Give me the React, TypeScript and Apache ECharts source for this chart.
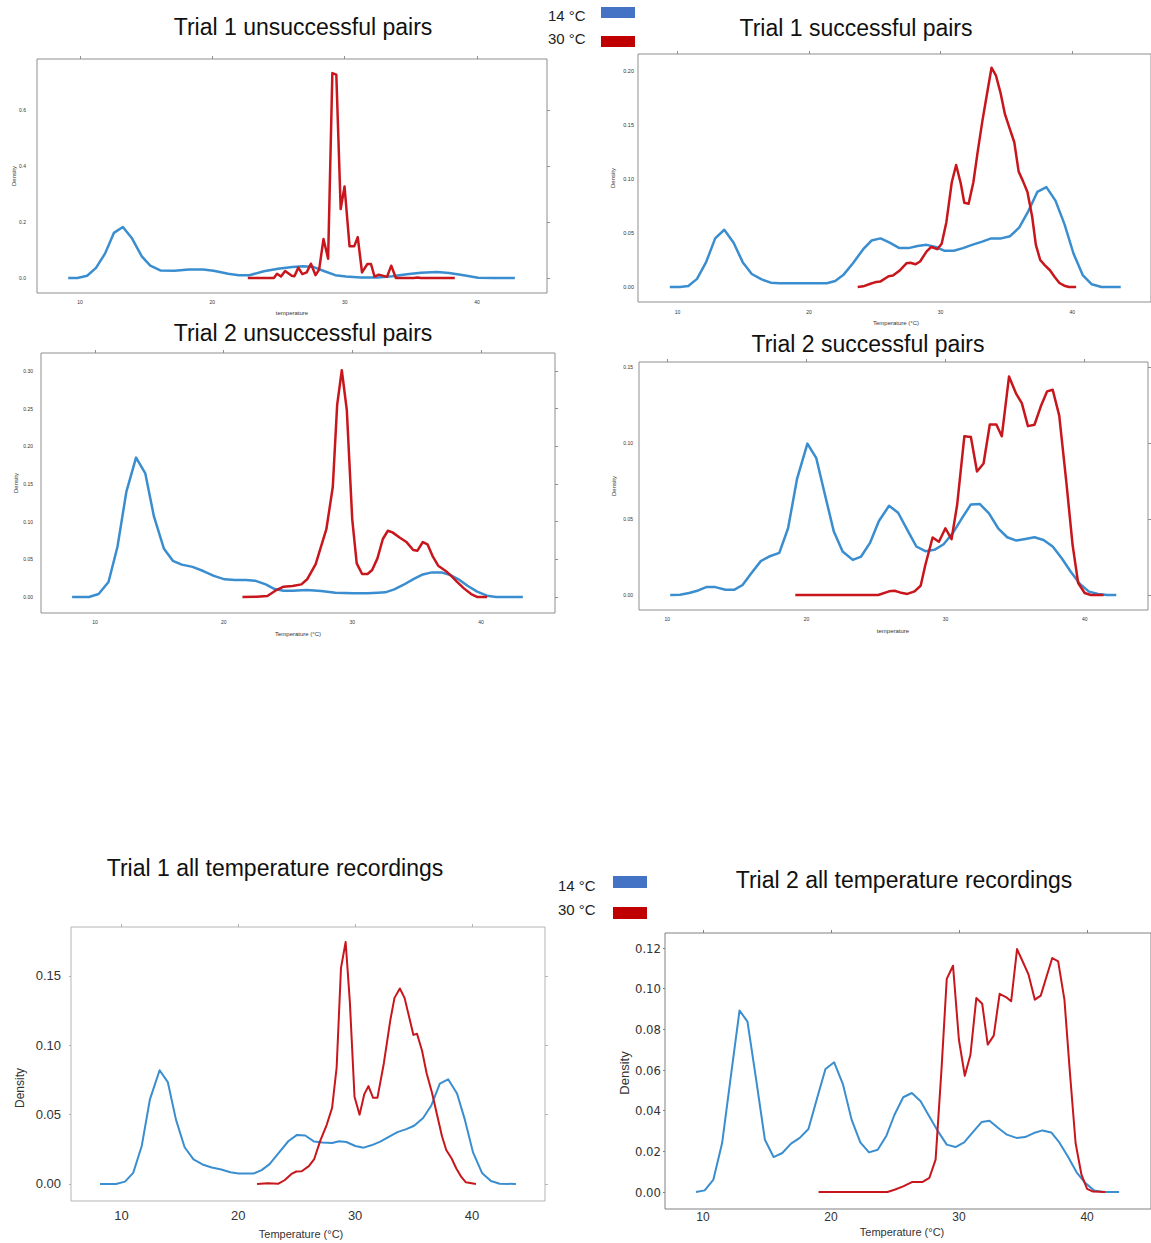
import React, { useEffect, useRef } from "react";
import * as echarts from "echarts";

// ---------- DATA ----------
const X_TICKS = [10, 20, 30, 40];
const Y_TICKS_T1U = [0, 0.2, 0.4, 0.6];
const Y_TICKS_T1S = [0, 0.05, 0.1, 0.15, 0.2];
const Y_TICKS_T2U = [0, 0.05, 0.1, 0.15, 0.2, 0.25, 0.3];
const Y_TICKS_T2S = [0, 0.05, 0.1, 0.15];
const Y_TICKS_T1A = [0, 0.05, 0.1, 0.15];
const Y_TICKS_T2A = [0, 0.02, 0.04, 0.06, 0.08, 0.1, 0.12];

const LEGEND_LABELS = ["14 °C", "30 °C"];
const TITLES = [
  "Trial 1 unsuccessful pairs",
  "Trial 1 successful pairs",
  "Trial 2 unsuccessful pairs",
  "Trial 2 successful pairs",
  "Trial 1 all temperature recordings",
  "Trial 2 all temperature recordings",
];

// Trial 1 unsuccessful pairs
const t1UnsuccCold: [number, number][] = [
  [9.11, 0], [9.81, 0], [10.54, 0.008], [11.21, 0.036], [11.89, 0.087], [12.56, 0.161], [13.24, 0.182],
  [13.91, 0.143], [14.67, 0.077], [15.31, 0.044], [16.07, 0.027], [17.15, 0.026], [18.23, 0.03], [19.3, 0.03],
  [20.1, 0.026], [21.2, 0.015], [22.0, 0.01], [22.8, 0.01], [23.9, 0.024], [24.97, 0.033], [26.05, 0.039],
  [26.86, 0.042], [27.67, 0.039], [28.48, 0.024], [29.29, 0.01], [30.1, 0.005], [31.2, 0.002], [32.5, 0.002],
  [33.6, 0.006], [34.7, 0.013], [35.76, 0.019], [36.98, 0.021], [37.9, 0.018], [39.0, 0.01], [40.08, 0.001],
  [41.16, 0], [42.86, 0],
];
const t1UnsuccWarm: [number, number][] = [
  [22.68, 0], [24.65, 0], [24.89, 0.015], [25.19, 0.005], [25.5, 0.025], [26.0, 0.008], [26.2, 0.006],
  [26.5, 0.037], [26.8, 0.014], [27.13, 0.02], [27.45, 0.051], [27.8, 0.01], [28.07, 0.03], [28.4, 0.139],
  [28.75, 0.069], [29.07, 0.732], [29.37, 0.726], [29.7, 0.246], [29.99, 0.327], [30.37, 0.113], [30.72, 0.113],
  [30.99, 0.146], [31.31, 0.02], [31.72, 0.05], [31.99, 0.05], [32.26, 0.005], [32.58, 0.012], [33.2, 0.004],
  [33.52, 0.044], [33.87, 0], [35.22, 0], [35.5, 0.002], [35.76, 0], [38.32, 0],
];

// Trial 1 successful pairs
const t1SuccCold: [number, number][] = [
  [9.42, 0], [10.19, 0], [10.83, 0.001], [11.49, 0.0075], [12.18, 0.023], [12.87, 0.045], [13.56, 0.053],
  [14.27, 0.041], [14.96, 0.023], [15.65, 0.012], [16.4, 0.007], [17.09, 0.004], [17.77, 0.0034], [19.15, 0.0034],
  [20.53, 0.0034], [21.36, 0.0034], [21.99, 0.0056], [22.6, 0.011], [23.34, 0.022], [24.12, 0.035], [24.75, 0.043],
  [25.44, 0.045], [26.13, 0.041], [26.87, 0.036], [27.56, 0.036], [28.25, 0.038], [28.94, 0.039], [29.63, 0.037],
  [30.31, 0.0335], [31.0, 0.0335], [31.7, 0.036], [32.39, 0.039], [33.16, 0.042], [33.85, 0.045], [34.6, 0.045],
  [35.28, 0.047], [35.97, 0.055], [36.66, 0.07], [37.35, 0.088], [38.04, 0.0925], [38.73, 0.08], [39.42, 0.058],
  [40.1, 0.031], [40.8, 0.011], [41.49, 0.0025], [42.23, 0], [43.69, 0],
];
const t1SuccWarm: [number, number][] = [
  [23.7, 0], [24.12, 0.0006], [24.67, 0.003], [25.0, 0.0043], [25.41, 0.005], [26.05, 0.01], [26.38, 0.0106],
  [26.87, 0.015], [27.42, 0.022], [27.7, 0.0224], [28.1, 0.021], [28.44, 0.0236], [28.94, 0.033], [29.29, 0.037],
  [29.75, 0.035], [30.08, 0.04], [30.44, 0.06], [30.85, 0.097], [31.18, 0.113], [31.53, 0.096], [31.8, 0.078],
  [32.13, 0.077], [32.49, 0.097], [32.84, 0.127], [33.18, 0.154], [33.46, 0.174], [33.87, 0.203], [34.2, 0.196],
  [34.55, 0.18], [34.89, 0.16], [35.24, 0.147], [35.6, 0.134], [35.93, 0.107], [36.26, 0.098], [36.6, 0.088],
  [36.96, 0.065], [37.24, 0.039], [37.57, 0.025], [37.93, 0.02], [38.31, 0.0155], [38.67, 0.0093], [39.03, 0.0037],
  [39.4, 0.0012], [39.76, 0], [40.3, 0],
];

// Trial 2 unsuccessful pairs
const t2UnsuccCold: [number, number][] = [
  [8.22, 0], [9.53, 0], [10.28, 0.004], [11.05, 0.02], [11.75, 0.067], [12.44, 0.14], [13.19, 0.185],
  [13.91, 0.164], [14.58, 0.107], [15.36, 0.064], [16.05, 0.048], [16.74, 0.043], [17.58, 0.04], [18.41, 0.0345],
  [19.24, 0.028], [20.07, 0.0235], [20.9, 0.0226], [21.74, 0.0226], [22.43, 0.0217], [23.27, 0.0168], [23.96, 0.0106],
  [24.65, 0.0084], [25.35, 0.0084], [26.46, 0.0093], [27.57, 0.008], [28.68, 0.0058], [30.06, 0.0049], [31.18, 0.0049],
  [32.0, 0.0058], [32.56, 0.0062], [33.26, 0.0102], [33.95, 0.016], [34.78, 0.024], [35.48, 0.03], [36.17, 0.0327],
  [36.92, 0.0327], [37.56, 0.0296], [38.25, 0.0235], [38.95, 0.015], [39.7, 0.0071], [40.47, 0.0018], [41.17, 0],
  [43.25, 0],
];
const t2UnsuccWarm: [number, number][] = [
  [21.46, 0], [22.57, 0.0004], [23.4, 0.0013], [24.1, 0.0093], [24.65, 0.0137], [25.35, 0.0146], [26.04, 0.0168],
  [26.51, 0.024], [27.15, 0.0438], [27.98, 0.09], [28.48, 0.146], [28.82, 0.255], [29.18, 0.301], [29.57, 0.248],
  [29.99, 0.1035], [30.34, 0.0447], [30.76, 0.0305], [31.18, 0.0305], [31.54, 0.0358], [31.95, 0.0513], [32.37, 0.077],
  [32.76, 0.088], [33.12, 0.0858], [33.67, 0.079], [34.23, 0.0726], [34.73, 0.0624], [35.06, 0.0615], [35.48, 0.073],
  [35.84, 0.07], [36.26, 0.0535], [36.67, 0.0416], [37.23, 0.035], [37.62, 0.029], [38.12, 0.0204], [38.67, 0.0115],
  [39.23, 0.004], [39.73, 0], [40.47, 0],
];

// Trial 2 successful pairs
const t2SuccCold: [number, number][] = [
  [10.21, 0], [10.91, 0.0002], [11.57, 0.0013], [12.22, 0.003], [12.8, 0.0052], [13.45, 0.0052], [14.18, 0.0035],
  [14.83, 0.0035], [15.41, 0.0066], [16.01, 0.014], [16.72, 0.0223], [17.32, 0.0253], [18.05, 0.0277], [18.68, 0.0439],
  [19.33, 0.0766], [20.07, 0.0996], [20.71, 0.09], [21.31, 0.0668], [21.97, 0.0417], [22.6, 0.0286], [23.33, 0.0231],
  [23.93, 0.0253], [24.58, 0.0345], [25.21, 0.0487], [25.94, 0.0587], [26.59, 0.0541], [27.25, 0.0428], [27.9, 0.0319],
  [28.55, 0.0288], [29.2, 0.0297], [29.86, 0.0334], [30.51, 0.0406], [31.17, 0.0504], [31.82, 0.0596], [32.47, 0.0598],
  [33.12, 0.0537], [33.78, 0.0439], [34.43, 0.038], [35.09, 0.0358], [35.74, 0.0369], [36.39, 0.038], [37.04, 0.0362],
  [37.7, 0.0319], [38.35, 0.0242], [39.0, 0.0153], [39.66, 0.0072], [40.31, 0.0022], [40.96, 0.0007], [41.62, 0],
  [42.27, 0],
];
const t2SuccWarm: [number, number][] = [
  [19.2, 0], [25.16, 0], [25.94, 0.0024], [26.33, 0.0028], [26.72, 0.0017], [27.25, 0.0007], [27.77, 0.0024],
  [28.21, 0.0061], [28.55, 0.0199], [29.07, 0.0378], [29.52, 0.035], [29.99, 0.0439], [30.43, 0.0367], [30.83, 0.0592],
  [31.35, 0.1044], [31.82, 0.1039], [32.26, 0.0812], [32.73, 0.0865], [33.18, 0.1122], [33.65, 0.1122], [34.04, 0.1044],
  [34.56, 0.1437], [35.08, 0.1323], [35.48, 0.1262], [35.92, 0.1111], [36.39, 0.112], [36.84, 0.124], [37.3, 0.134],
  [37.7, 0.135], [38.17, 0.118], [38.69, 0.0734], [39.13, 0.033], [39.53, 0.0079], [40.0, 0.0013], [40.44, 0],
  [41.36, 0],
];

// Trial 1 all temperature recordings
const t1AllCold: [number, number][] = [
  [8.17, 0], [9.54, 0], [10.31, 0.0017], [11.01, 0.008], [11.74, 0.0274], [12.44, 0.061], [13.27, 0.082],
  [13.97, 0.0735], [14.67, 0.0464], [15.41, 0.0265], [16.17, 0.0177], [16.94, 0.0141], [17.73, 0.0119], [18.55, 0.0104],
  [19.32, 0.0085], [20.02, 0.0075], [20.79, 0.0075], [21.3, 0.0075], [22.0, 0.01], [22.68, 0.0143], [23.5, 0.0228],
  [24.3, 0.031], [25.03, 0.0354], [25.73, 0.035], [26.5, 0.0306], [27.2, 0.0299], [28.03, 0.0296], [28.64, 0.0308],
  [29.25, 0.0303], [30.02, 0.0274], [30.72, 0.0262], [31.39, 0.0279], [32.15, 0.0306], [32.92, 0.0342], [33.62, 0.0374],
  [34.38, 0.0396], [35.05, 0.042], [35.82, 0.0476], [36.52, 0.0566], [37.25, 0.0723], [37.96, 0.0755], [38.72, 0.0653],
  [39.39, 0.0464], [40.09, 0.0228], [40.86, 0.008], [41.62, 0.0022], [42.38, 0.0002], [43.76, 0],
];
const t1AllWarm: [number, number][] = [
  [21.61, 0], [22.53, 0.0005], [23.44, 0.0002], [23.96, 0.0027], [24.6, 0.0075], [24.97, 0.009], [25.43, 0.0092],
  [26.04, 0.0129], [26.5, 0.018], [27.02, 0.0313], [27.57, 0.0427], [28.03, 0.0549], [28.42, 0.084], [28.79, 0.1556],
  [29.19, 0.1745], [29.55, 0.1313], [29.95, 0.0629], [30.38, 0.05], [30.78, 0.0646], [31.14, 0.0706], [31.54, 0.0621],
  [31.91, 0.0621], [32.46, 0.0871], [33.01, 0.118], [33.37, 0.1342], [33.83, 0.141], [34.23, 0.1342], [34.66, 0.1192],
  [34.99, 0.1075], [35.3, 0.1083], [35.73, 0.0961], [36.12, 0.0799], [36.58, 0.0658], [37.04, 0.0488], [37.44, 0.0342],
  [37.8, 0.0245], [38.26, 0.0184], [38.66, 0.0112], [39.09, 0.0051], [39.48, 0.0012], [40.34, 0],
];

// Trial 2 all temperature recordings
const t2AllCold: [number, number][] = [
  [9.46, 0], [10.14, 0.0008], [10.82, 0.0061], [11.5, 0.0241], [12.18, 0.0569], [12.86, 0.0893], [13.48, 0.0838],
  [14.16, 0.0552], [14.84, 0.0257], [15.52, 0.0172], [16.2, 0.0192], [16.88, 0.0238], [17.56, 0.0266], [18.24, 0.031],
  [18.92, 0.0462], [19.57, 0.0605], [20.25, 0.0638], [20.93, 0.0531], [21.61, 0.0356], [22.29, 0.0244], [22.97, 0.0195],
  [23.65, 0.0208], [24.33, 0.0277], [24.96, 0.038], [25.64, 0.0466], [26.32, 0.0487], [27.0, 0.0446], [27.68, 0.0372],
  [28.36, 0.0298], [29.04, 0.0233], [29.72, 0.0221], [30.4, 0.0244], [31.08, 0.0295], [31.76, 0.0344], [32.38, 0.0351],
  [33.06, 0.0315], [33.74, 0.0282], [34.48, 0.0266], [35.16, 0.027], [35.84, 0.029], [36.52, 0.0303], [37.2, 0.0293],
  [37.83, 0.0244], [38.5, 0.0175], [39.18, 0.0097], [39.86, 0.0044], [40.54, 0.0008], [41.28, 0], [42.5, 0],
];
const t2AllWarm: [number, number][] = [
  [19.03, 0], [24.41, 0], [24.96, 0.0011], [25.64, 0.0028], [26.32, 0.0049], [27.13, 0.0049], [27.68, 0.0069],
  [28.17, 0.0159], [28.63, 0.0602], [29.04, 0.1048], [29.53, 0.1113], [29.99, 0.0749], [30.45, 0.0572], [30.89, 0.0675],
  [31.35, 0.0954], [31.81, 0.0926], [32.24, 0.0725], [32.71, 0.0769], [33.17, 0.0975], [33.66, 0.0959], [34.07, 0.0938],
  [34.53, 0.1195], [34.97, 0.1134], [35.43, 0.1069], [35.92, 0.0946], [36.38, 0.0966], [36.84, 0.1061], [37.28, 0.1151],
  [37.74, 0.1134], [38.23, 0.0946], [38.64, 0.0602], [39.1, 0.0241], [39.56, 0.0085], [40.0, 0.0015], [40.46, 0.0002],
  [41.41, 0],
];

// ---------- STYLE / LAYOUT ----------
const BLUE = "#3a8ecf";
const RED = "#c8161d";
const LEG_BLUE = "#4472c4";
const LEG_RED = "#c00000";
const SANS = "'Liberation Sans', Arial, Helvetica, sans-serif";
const NARROW = "'Liberation Sans Narrow', 'DejaVu Sans Condensed', 'Liberation Sans', sans-serif";

type Panel = {
  left: number; top: number; right: number; bottom: number;
  xMin: number; xMax: number; yMin: number; yMax: number;
  yTicks: number[]; dec: number;
  cold: [number, number][]; warm: [number, number][];
  box: string; lw: number;
  xFont: number; yFont: number; xFam: string; yFam: string;
  xMargin: number; yMargin: number; leftTicks: boolean;
  title: string; titleX: number; titleY: number;
  xName: string; xNameX: number; xNameY: number; xNameFont: number;
  yNameX: number; yNameY: number; yNameFont: number;
};

const PANELS: Panel[] = [
  {
    left: 37, top: 59, right: 547, bottom: 293, xMin: 6.751, xMax: 45.29, yMin: -0.0536, yMax: 0.7821,
    yTicks: Y_TICKS_T1U, dec: 1, cold: t1UnsuccCold, warm: t1UnsuccWarm, box: "#8f8f8f", lw: 2.5,
    xFont: 5, yFont: 5, xFam: SANS, yFam: SANS, xMargin: 6, yMargin: 11, leftTicks: false,
    title: TITLES[0], titleX: 303, titleY: 27,
    xName: "temperature", xNameX: 292, xNameY: 313, xNameFont: 6, yNameX: 14, yNameY: 176, yNameFont: 6,
  },
  {
    left: 638, top: 54, right: 1152, bottom: 302, xMin: 7.004, xMax: 45.99, yMin: -0.0139, yMax: 0.2157,
    yTicks: Y_TICKS_T1S, dec: 2, cold: t1SuccCold, warm: t1SuccWarm, box: "#8f8f8f", lw: 2.5,
    xFont: 5, yFont: 5.5, xFam: SANS, yFam: SANS, xMargin: 7, yMargin: 4, leftTicks: false,
    title: TITLES[1], titleX: 856, titleY: 28,
    xName: "Temperature (°C)", xNameX: 896, xNameY: 323, xNameFont: 6, yNameX: 613, yNameY: 178, yNameFont: 6,
  },
  {
    left: 41, top: 353, right: 555, bottom: 613, xMin: 5.803, xMax: 45.75, yMin: -0.0212, yMax: 0.3239,
    yTicks: Y_TICKS_T2U, dec: 2, cold: t2UnsuccCold, warm: t2UnsuccWarm, box: "#8f8f8f", lw: 2.5,
    xFont: 5, yFont: 5, xFam: SANS, yFam: SANS, xMargin: 6.5, yMargin: 8, leftTicks: false,
    title: TITLES[2], titleX: 303, titleY: 333,
    xName: "Temperature (°C)", xNameX: 298, xNameY: 634, xNameFont: 6, yNameX: 16, yNameY: 483, yNameFont: 6,
  },
  {
    left: 639, top: 362, right: 1148, bottom: 610, xMin: 7.966, xMax: 44.55, yMin: -0.00987, yMax: 0.1533,
    yTicks: Y_TICKS_T2S, dec: 2, cold: t2SuccCold, warm: t2SuccWarm, box: "#8f8f8f", lw: 2.5,
    xFont: 5, yFont: 5, xFam: SANS, yFam: SANS, xMargin: 6.5, yMargin: 6, leftTicks: false,
    title: TITLES[3], titleX: 868, titleY: 344,
    xName: "temperature", xNameX: 893, xNameY: 631, xNameFont: 6, yNameX: 614, yNameY: 486, yNameFont: 6,
  },
  {
    left: 71, top: 927, right: 545, bottom: 1201, xMin: 5.687, xMax: 46.25, yMin: -0.01226, yMax: 0.1853,
    yTicks: Y_TICKS_T1A, dec: 2, cold: t1AllCold, warm: t1AllWarm, box: "#b5b5b5", lw: 2,
    xFont: 13, yFont: 13, xFam: SANS, yFam: SANS, xMargin: 8, yMargin: 10, leftTicks: true,
    title: TITLES[4], titleX: 275, titleY: 868,
    xName: "Temperature (°C)", xNameX: 301, xNameY: 1234, xNameFont: 11, yNameX: 20, yNameY: 1088, yNameFont: 12,
  },
  {
    left: 665, top: 933, right: 1152, bottom: 1209, xMin: 7.039, xMax: 44.99, yMin: -0.00836, yMax: 0.1274,
    yTicks: Y_TICKS_T2A, dec: 2, cold: t2AllCold, warm: t2AllWarm, box: "#808080", lw: 2,
    xFont: 12, yFont: 13, xFam: SANS, yFam: NARROW, xMargin: 2, yMargin: 4, leftTicks: true,
    title: TITLES[5], titleX: 904, titleY: 880,
    xName: "Temperature (°C)", xNameX: 902, xNameY: 1232, xNameFont: 11, yNameX: 624, yNameY: 1073, yNameFont: 13,
  },
];

function textEl(text: string, x: number, y: number, fontSize: number, opts: any = {}) {
  return {
    type: "text",
    x,
    y,
    rotation: opts.rotation || 0,
    silent: true,
    style: {
      text,
      fontSize,
      fontFamily: opts.fontFamily || SANS,
      fontWeight: opts.fontWeight || "normal",
      fill: opts.fill || "#222",
      align: opts.align || "center",
      verticalAlign: "middle",
      textAlign: opts.align || "center",
      textVerticalAlign: "middle",
    },
  };
}

function buildOption() {
  const grid: any[] = [];
  const xAxis: any[] = [];
  const yAxis: any[] = [];
  const series: any[] = [];
  const graphic: any[] = [];

  PANELS.forEach((p, i) => {
    grid.push({
      left: p.left,
      top: p.top,
      width: p.right - p.left,
      height: p.bottom - p.top,
      show: true,
      borderColor: p.box,
      borderWidth: 1,
      backgroundColor: "transparent",
      containLabel: false,
    });
    xAxis.push({
      type: "value",
      gridIndex: i,
      position: "bottom",
      min: p.xMin,
      max: p.xMax,
      axisLine: { show: false, onZero: false },
      axisTick: { show: false },
      splitLine: { show: false },
      axisLabel: {
        customValues: X_TICKS,
        fontSize: p.xFont,
        fontFamily: p.xFam,
        color: "#333",
        margin: p.xMargin,
        formatter: (v: number) => String(Math.round(v)),
      },
    });
    xAxis.push({
      type: "value",
      gridIndex: i,
      position: "top",
      min: p.xMin,
      max: p.xMax,
      axisLine: { show: false, onZero: false },
      axisLabel: { show: false },
      splitLine: { show: false },
      axisTick: { show: true, customValues: X_TICKS, length: 3, lineStyle: { color: p.box } },
    });
    yAxis.push({
      type: "value",
      gridIndex: i,
      position: "left",
      min: p.yMin,
      max: p.yMax,
      axisLine: { show: false, onZero: false },
      axisTick: p.leftTicks
        ? { show: true, customValues: p.yTicks, length: 2, lineStyle: { color: p.box } }
        : { show: false },
      splitLine: { show: false },
      axisLabel: {
        customValues: p.yTicks,
        fontSize: p.yFont,
        fontFamily: p.yFam,
        color: "#333",
        margin: p.yMargin,
        formatter: (v: number) => v.toFixed(p.dec),
      },
    });
    yAxis.push({
      type: "value",
      gridIndex: i,
      position: "right",
      min: p.yMin,
      max: p.yMax,
      axisLine: { show: false, onZero: false },
      axisLabel: { show: false },
      splitLine: { show: false },
      axisTick: { show: true, customValues: p.yTicks, length: 3, lineStyle: { color: p.box } },
    });
    series.push({
      type: "line",
      name: LEGEND_LABELS[0],
      xAxisIndex: 2 * i,
      yAxisIndex: 2 * i,
      data: p.cold,
      showSymbol: false,
      symbol: "none",
      lineStyle: { color: BLUE, width: p.lw, join: "round" },
      itemStyle: { color: BLUE },
      z: 2,
    });
    series.push({
      type: "line",
      name: LEGEND_LABELS[1],
      xAxisIndex: 2 * i,
      yAxisIndex: 2 * i,
      data: p.warm,
      showSymbol: false,
      symbol: "none",
      lineStyle: { color: RED, width: p.lw, join: "round" },
      itemStyle: { color: RED },
      z: 3,
    });

    graphic.push(textEl(p.title, p.titleX, p.titleY, 23, { fill: "#111" }));
    graphic.push(textEl(p.xName, p.xNameX, p.xNameY, p.xNameFont, { fill: "#333" }));
    graphic.push(
      textEl("Density", p.yNameX, p.yNameY, p.yNameFont, { fill: "#333", rotation: Math.PI / 2 })
    );
  });

  // legends
  const legends = [
    { tx: 548, ty: [15, 38], rx: 601, ry: [7, 36], rw: 34, rh: 11 },
    { tx: 558, ty: [885, 909], rx: 613, ry: [876, 907], rw: 34, rh: 12 },
  ];
  legends.forEach((l) => {
    LEGEND_LABELS.forEach((lab, k) => {
      graphic.push(textEl(lab, l.tx, l.ty[k], 15, { align: "left", fill: "#222" }));
      graphic.push({
        type: "rect",
        silent: true,
        shape: { x: l.rx, y: l.ry[k], width: l.rw, height: l.rh },
        style: { fill: k === 0 ? LEG_BLUE : LEG_RED },
      });
    });
  });

  return {
    animation: false,
    backgroundColor: "#ffffff",
    grid,
    xAxis,
    yAxis,
    series,
    graphic,
  };
}

export default function App() {
  const ref = useRef<HTMLDivElement>(null);
  useEffect(() => {
    if (!ref.current) return;
    const chart = echarts.init(ref.current, null, { renderer: "svg", width: 1151, height: 1243 });
    chart.setOption(buildOption() as any);
    return () => chart.dispose();
  }, []);
  return (
    <div
      ref={ref}
      style={{ position: "absolute", left: 0, top: 0, width: 1151, height: 1243, background: "#fff" }}
    />
  );
}
